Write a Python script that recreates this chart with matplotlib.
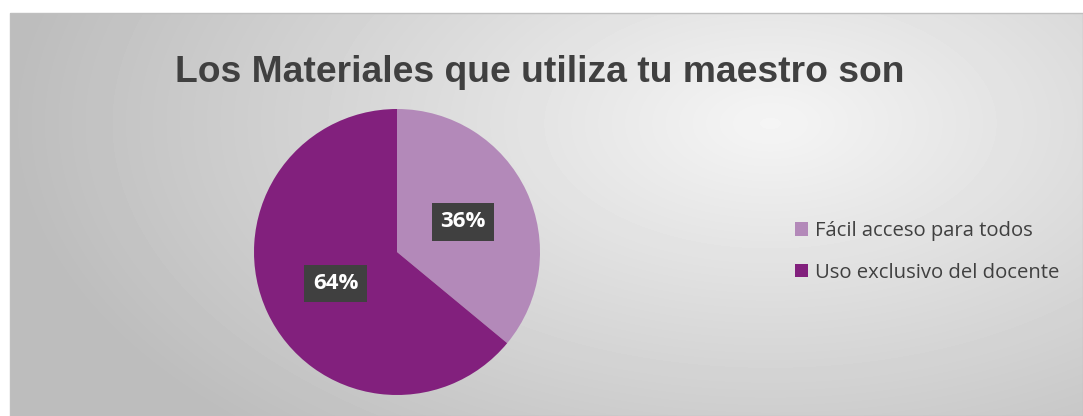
import numpy as np
import matplotlib.pyplot as plt
from matplotlib.patches import Rectangle

categories = ["Fácil acceso para todos", "Uso exclusivo del docente"]
values = [36, 64]
colors = ["#b389b9", "#82207d"]
title = "Los Materiales que utiliza tu maestro son"

W, H = 1083, 416
fig = plt.figure(figsize=(W / 100, H / 100), dpi=100)
fig.patch.set_facecolor("white")

# gradient background for the chart area
bg = fig.add_axes([10 / W, 0, 1 - 10 / W, 1 - 13 / H])
yy, xx = np.mgrid[0:403, 0:1073]
d = np.sqrt(((xx - 760) / 760.0) ** 2 + ((yy - 110) / 420.0) ** 2)
shade = np.clip(0.96 - 0.22 * d, 0.74, 0.96)
bg.imshow(shade, cmap="gray", vmin=0, vmax=1, aspect="auto")
bg.set_axis_off()
fig.add_artist(Rectangle((10 / W, 0), 1 - 10 / W, 1 - 13 / H, transform=fig.transFigure,
                         fill=False, edgecolor="#bfbfbf", linewidth=1))

fig.text(540 / W, 1 - 72 / H, title, ha="center", va="center", fontsize=26.8,
         fontweight="bold", color="#404040", family="Liberation Sans")

r = 143
ax = fig.add_axes([(397 - r) / W, 1 - (252 + r) / H, 2 * r / W, 2 * r / H])
wedges, _ = ax.pie(values, colors=colors, startangle=90, counterclock=False,
                   wedgeprops=dict(linewidth=0))
ax.set_aspect("equal")
ax.set_xlim(-1, 1)
ax.set_ylim(-1, 1)

label_pos = [(0.46, 0.21), (-0.43, -0.22)]
for (x, y), v in zip(label_pos, values):
    ax.text(x, y, f"{v}%", ha="center", va="center", fontsize=16, fontweight="bold",
            color="white", family="Open Sans",
            bbox=dict(boxstyle="square,pad=0.38", facecolor="#404040", edgecolor="none"))

leg = fig.legend(wedges, categories, loc="center left", bbox_to_anchor=(777 / W, 1 - 252 / H),
                 frameon=False, handlelength=0.65, handleheight=0.65,
                 handletextpad=0.3, labelspacing=1.05, labelcolor="#404040",
                 prop=dict(family="Open Sans", size=14.6))

fig.savefig("out.png", dpi=100)
